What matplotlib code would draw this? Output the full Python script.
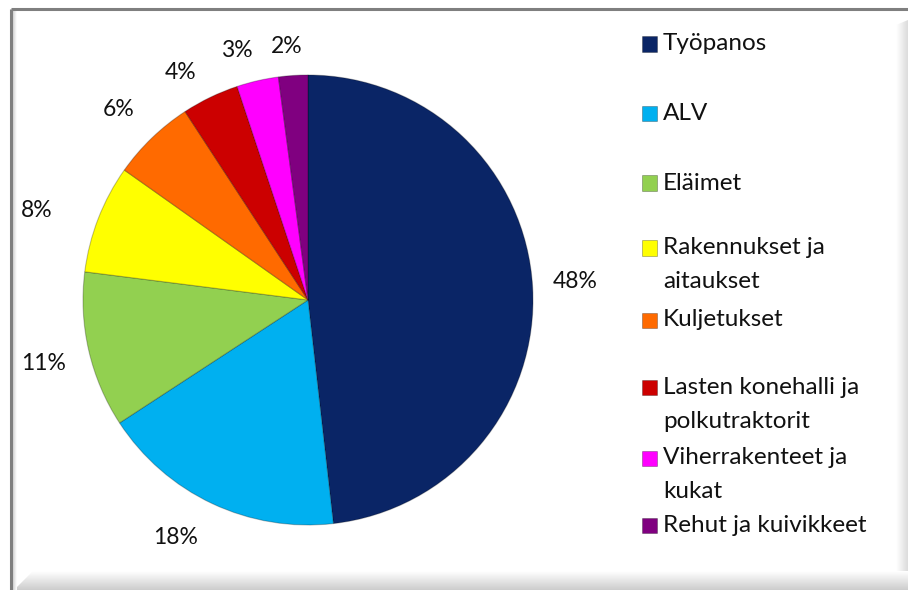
import matplotlib
matplotlib.use("Agg")
import matplotlib.pyplot as plt
import numpy as np
from matplotlib.patches import Rectangle, Polygon

categories = ["Työpanos", "ALV", "Eläimet", "Rakennukset ja\naitaukset", "Kuljetukset",
              "Lasten konehalli ja\npolkutraktorit", "Viherrakenteet ja\nkukat", "Rehut ja kuivikkeet"]
values = [48.2, 17.6, 11.2, 7.8, 6.0, 4.1, 3.0, 2.1]
colors = ["#0A2566", "#00B0F0", "#92D050", "#FFFF00", "#FF6A00", "#CC0000", "#FF00FF", "#800080"]

FONT = "Lato"
W, H = 908, 590
fig = plt.figure(figsize=(W / 100, H / 100), dpi=100)

# background frame
bg = fig.add_axes([0, 0, 1, 1], zorder=0)
bg.set_xlim(0, W)
bg.set_ylim(H, 0)
bg.axis("off")
grad_v = np.linspace(1, 0.80, 64).reshape(-1, 1)
im = bg.imshow(np.repeat(grad_v, 2, axis=1), cmap="gray", vmin=0, vmax=1,
               extent=(10, W, 590, 571), aspect="auto", interpolation="bilinear")
poly = Polygon([(14, 590), (33, 571), (W, 571), (W, 590)], closed=True, transform=bg.transData)
im.set_clip_path(poly)
grad_h = np.linspace(1, 0.86, 64).reshape(1, -1)
im2 = bg.imshow(np.repeat(grad_h, 2, axis=0), cmap="gray", vmin=0, vmax=1,
                extent=(896, W, 571, 20), aspect="auto", interpolation="bilinear")
poly2 = Polygon([(896, 571), (896, 25), (W, 20), (W, 590)], closed=True, transform=bg.transData)
im2.set_clip_path(poly2)
grad_l = np.linspace(0.78, 1, 32).reshape(1, -1)
im3 = bg.imshow(np.repeat(grad_l, 2, axis=0), cmap="gray", vmin=0, vmax=1,
                extent=(12, 17, 590, 10), aspect="auto", interpolation="bilinear")
bg.plot([10.5, W], [8.5, 8.5], color="#7f7f7f", lw=2.2, solid_capstyle="butt")
bg.plot([10.5, 10.5], [8.5, H], color="#7f7f7f", lw=2.2, solid_capstyle="butt")

# pie
cx, cy, r = 308, 300, 225
ax = fig.add_axes([(cx - r) / W, (H - cy - r) / H, 2 * r / W, 2 * r / H], zorder=2)
wedges, texts, autotexts = ax.pie(values, colors=colors, startangle=90, counterclock=False,
                                  radius=1.0, autopct="%.0f%%", pctdistance=1.2,
                                  wedgeprops=dict(edgecolor=(0, 0, 0, 0.25), linewidth=0.8),
                                  textprops=dict(fontsize=16.5, family=FONT, color="#111111"))
label_dist = [1.19, 1.21, 1.21, 1.27, 1.195, 1.16, 1.155, 1.13]
label_dang = [0.8, -4.0, 0.5, 3.0, 1.0, 3.6, 3.0, 1.0]
for w, t, d, da in zip(wedges, autotexts, label_dist, label_dang):
    ang = np.deg2rad((w.theta1 + w.theta2) / 2 + da)
    t.set_position((d * np.cos(ang), d * np.sin(ang)))
ax.set_xlim(-1, 1)
ax.set_ylim(-1, 1)
ax.set_aspect("equal")
ax.axis("off")

# legend (manual layout to match reference spacing)
legend_y = [44, 113, 183, 248, 320, 387, 458, 525]
line_gap = 34
for cat, col, y in zip(categories, colors, legend_y):
    fig.patches.append(Rectangle((642 / W, (H - y - 7.5) / H), 15 / W, 15 / H,
                                 transform=fig.transFigure, facecolor=col,
                                 edgecolor=(0, 0, 0, 0.3), linewidth=0.6, zorder=3))
    lines = cat.split("\n")
    for i, ln in enumerate(lines):
        fig.text(663 / W, (H - y - i * line_gap) / H, ln, fontsize=17.5, family=FONT,
                 color="#111111", va="center", ha="left")

fig.savefig("out.png", dpi=100)
